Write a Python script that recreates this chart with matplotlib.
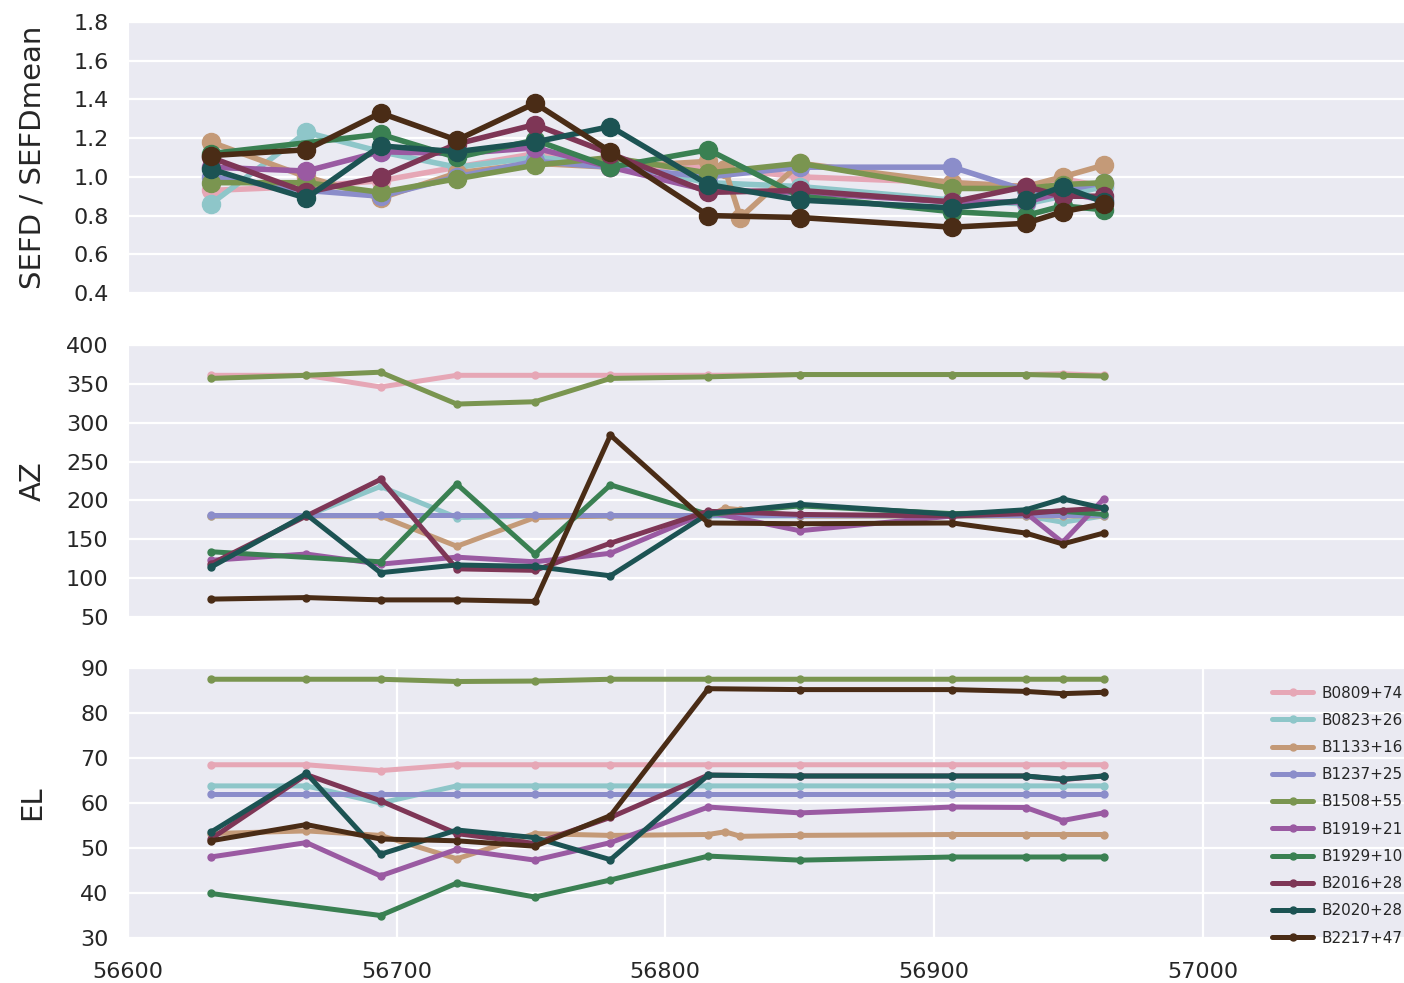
import matplotlib
matplotlib.use("Agg")
import matplotlib.pyplot as plt
import seaborn as sns

# Observation epochs (MJD)
mjd = [56630.8, 56666.4, 56694.0, 56722.4, 56751.5, 56779.6,
       56816.0, 56850.1, 56906.9, 56934.2, 56947.9, 56963.2]
mjd_b1133 = [56630.8, 56666.4, 56694.0, 56722.4, 56751.5, 56779.6,
             56816.0, 56822.2, 56828.0, 56850.1, 56906.9, 56934.2, 56947.9, 56963.2]
mjd_b1929 = [56630.8, 56694.0, 56722.4, 56751.5, 56779.6,
             56816.0, 56850.1, 56906.9, 56934.2, 56947.9, 56963.2]

sources = ["B0809+74", "B0823+26", "B1133+16", "B1237+25", "B1508+55",
           "B1919+21", "B1929+10", "B2016+28", "B2020+28", "B2217+47"]
colors = ["#e6a7b6", "#8ec6c9", "#c49a78", "#8b8dca", "#7a9550",
          "#9a5aa2", "#3a8052", "#7e3656", "#1c5353", "#4a2c16"]

# SEFD normalised by its mean
sefd_b0809 = [0.93, 0.95, 0.98, 1.05, 1.12, 1.05, 1.05, 1.00, 0.97, 0.95, 0.99, 0.95]
sefd_b0823 = [0.86, 1.23, 1.13, 1.05, 1.10, 1.07, 0.97, 0.95, 0.88, 0.86, 0.90, 0.95]
sefd_b1133 = [1.18, 1.00, 0.89, 1.02, 1.07, 1.05, 1.08, 1.04, 0.79, 1.07, 0.97, 0.95, 1.00, 1.06]
sefd_b1237 = [1.00, 0.93, 0.90, 1.00, 1.08, 1.05, 1.00, 1.05, 1.05, 0.93, 0.93, 0.97]
sefd_b1508 = [0.97, 0.97, 0.92, 0.99, 1.06, 1.10, 1.02, 1.07, 0.94, 0.94, 0.96, 0.97]
sefd_b1919 = [1.05, 1.03, 1.13, 1.12, 1.15, 1.05, 0.93, 0.92, 0.87, 0.87, 0.92, 0.88]
sefd_b1929 = [1.12, 1.22, 1.10, 1.19, 1.05, 1.14, 0.90, 0.82, 0.80, 0.85, 0.83]
sefd_b2016 = [1.10, 0.92, 1.00, 1.17, 1.27, 1.12, 0.92, 0.93, 0.87, 0.95, 0.90, 0.90]
sefd_b2020 = [1.04, 0.89, 1.16, 1.13, 1.18, 1.26, 0.96, 0.88, 0.84, 0.88, 0.95, 0.87]
sefd_b2217 = [1.11, 1.14, 1.33, 1.19, 1.38, 1.13, 0.80, 0.79, 0.74, 0.76, 0.82, 0.86]

# Azimuth (deg)
az_b0809 = [361, 361, 346, 361, 361, 361, 361, 362, 362, 362, 363, 361]
az_b0823 = [180, 180, 218, 178, 180, 180, 180, 180, 180, 180, 172, 180]
az_b1133 = [180, 180, 180, 141, 178, 180, 180, 190, 188, 180, 180, 180, 180, 180]
az_b1237 = [181, 181, 181, 181, 181, 181, 181, 181, 181, 181, 181, 181]
az_b1508 = [357, 361, 365, 324, 327, 357, 359, 362, 362, 362, 361, 360]
az_b1919 = [123, 131, 118, 127, 121, 132, 185, 161, 180, 184, 146, 202]
az_b1929 = [134, 121, 221, 131, 220, 182, 193, 183, 185, 186, 182]
az_b2016 = [118, 180, 227, 112, 110, 145, 186, 182, 180, 183, 187, 190]
az_b2020 = [114, 182, 107, 117, 115, 103, 183, 195, 182, 188, 202, 190]
az_b2217 = [73, 75, 72, 72, 70, 284, 171, 170, 171, 158, 144, 158]

# Elevation (deg)
el_b0809 = [68.5, 68.5, 67.2, 68.5, 68.5, 68.5, 68.5, 68.5, 68.5, 68.5, 68.5, 68.5]
el_b0823 = [63.8, 63.8, 60.0, 63.8, 63.8, 63.8, 63.8, 63.8, 63.8, 63.8, 63.8, 63.8]
el_b1133 = [53.2, 53.8, 52.8, 47.6, 53.2, 52.8, 53.0, 53.6, 52.6, 52.8, 53.0, 53.0, 53.0, 53.0]
el_b1237 = [62.0, 62.0, 62.0, 62.0, 62.0, 62.0, 62.0, 62.0, 62.0, 62.0, 62.0, 62.0]
el_b1508 = [87.5, 87.5, 87.5, 87.0, 87.1, 87.5, 87.5, 87.5, 87.5, 87.5, 87.5, 87.5]
el_b1919 = [48.0, 51.2, 43.8, 49.7, 47.3, 51.2, 59.1, 57.8, 59.1, 59.0, 56.1, 57.8]
el_b1929 = [39.9, 35.0, 42.2, 39.1, 42.9, 48.2, 47.3, 48.0, 48.0, 48.0, 48.0]
el_b2016 = [52.0, 66.3, 60.5, 53.2, 51.0, 56.8, 66.2, 66.0, 66.0, 66.0, 65.2, 66.0]
el_b2020 = [53.5, 66.6, 48.6, 54.0, 52.3, 47.4, 66.2, 66.0, 66.0, 66.0, 65.3, 66.0]
el_b2217 = [51.6, 55.2, 52.0, 51.6, 50.4, 57.2, 85.4, 85.2, 85.2, 84.8, 84.3, 84.6]

times = [mjd, mjd, mjd_b1133, mjd, mjd, mjd, mjd_b1929, mjd, mjd, mjd]
sefd = [sefd_b0809, sefd_b0823, sefd_b1133, sefd_b1237, sefd_b1508,
        sefd_b1919, sefd_b1929, sefd_b2016, sefd_b2020, sefd_b2217]
az = [az_b0809, az_b0823, az_b1133, az_b1237, az_b1508,
      az_b1919, az_b1929, az_b2016, az_b2020, az_b2217]
el = [el_b0809, el_b0823, el_b1133, el_b1237, el_b1508,
      el_b1919, el_b1929, el_b2016, el_b2020, el_b2217]

sns.set_style("darkgrid")
plt.rcParams["font.family"] = ["DejaVu Sans"]

fig = plt.figure(figsize=(14.04, 9.83), dpi=100)
W, H = 1404.0, 983.0
left = 128 / W
width = 1.0 - left

def box(top_px, bot_px):
    return [left, 1 - bot_px / H, width, (bot_px - top_px) / H]

ax1 = fig.add_axes(box(22, 293))
ax2 = fig.add_axes(box(345, 617))
ax3 = fig.add_axes(box(668, 938))

for t, y, c in zip(times, sefd, colors):
    ax1.plot(t, y, "-o", color=c, lw=4.0, ms=13)
for t, y, c in zip(times, az, colors):
    ax2.plot(t, y, marker=".", color=c, lw=3.6, ms=10, linestyle="-")
for t, y, c, name in zip(times, el, colors, sources):
    ax3.plot(t, y, marker=".", color=c, lw=3.6, ms=10, linestyle="-", label=name)

xmin, xmax = 56600, 57075
for ax in (ax1, ax2, ax3):
    ax.set_xlim(xmin, xmax)
    ax.grid(color="white", lw=1.6)
    ax.tick_params(axis="both", labelsize=16, pad=14, length=0, colors="#262626")

ax1.set_ylim(0.4, 1.8)
ax1.set_yticks([0.4, 0.6, 0.8, 1.0, 1.2, 1.4, 1.6, 1.8])
ax1.set_xticks([])
ax2.set_ylim(50, 400)
ax2.set_yticks(range(50, 401, 50))
ax2.set_xticks([])
ax3.set_ylim(30, 90)
ax3.set_yticks(range(30, 91, 10))
ax3.set_xticks(range(56600, 57001, 100))
ax3.tick_params(axis="x", pad=17)

ax1.set_ylabel("SEFD / SEFDmean", fontsize=21, color="#262626")
ax2.set_ylabel("AZ", fontsize=21, color="#262626")
ax3.set_ylabel("EL", fontsize=21, color="#262626")
for ax in (ax1, ax2, ax3):
    ax.yaxis.set_label_coords(-0.064, 0.5)

ax3.legend(loc="lower right", bbox_to_anchor=(1.006, -0.062), frameon=False,
           fontsize=11, labelspacing=0.8, handlelength=2.7,
           handletextpad=0.5, numpoints=1, borderaxespad=0.2)

fig.savefig("out.png", dpi=100)
